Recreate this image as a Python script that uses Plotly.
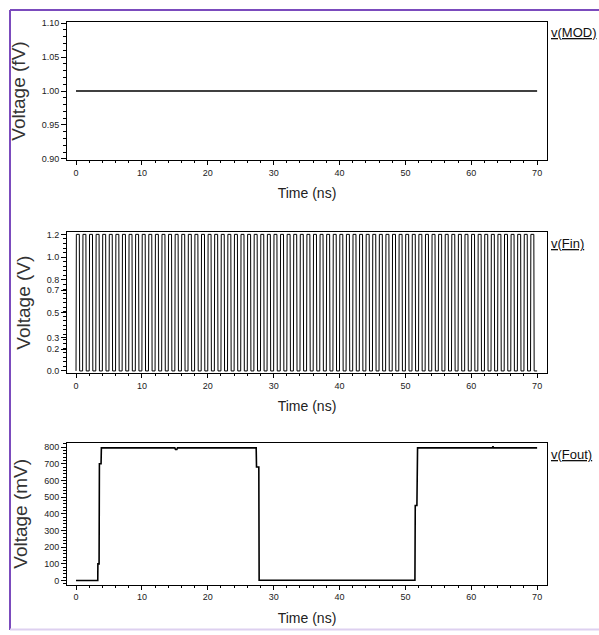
import plotly.graph_objects as go

# ---------------- data ----------------
mod_t = [0, 70]
mod_v = [1.0, 1.0]

# Fin: clock edges (rise times in ns), high time ~0.5 ns
fin_rise_ns = [0, 1, 2, 3, 4, 5, 6, 7, 8, 9, 10, 11, 12, 13, 14, 15, 16, 17, 18, 19,
               20, 21, 22, 23, 24, 25, 26, 27, 28, 29, 30, 31, 32, 33, 34, 35, 36, 37, 38, 39,
               40, 41, 42, 43, 44, 45, 46, 47, 48, 49, 50, 51, 52, 53, 54, 55, 56, 57, 58, 59,
               60, 61, 62, 63, 64, 65, 66, 67, 68, 69]
fin_high_ns = 0.5
fin_edge_ns = 0.05
fin_hi = 1.2
fin_lo = 0.0
fin_end = 70

fout_t = [0, 3.3, 3.32, 3.5, 3.55, 3.8, 3.85, 15.0, 15.1, 15.3, 15.4, 27.35, 27.4,
          27.75, 27.8, 51.45, 51.5, 51.75, 51.85, 63.2, 63.3, 63.4, 70]
fout_v = [0, 0, 100, 100, 700, 700, 795, 795, 785, 785, 795, 795, 680,
          680, 2, 2, 450, 450, 795, 795, 805, 795, 795]

fin_yticks = [0.0, 0.19, 0.29, 0.51, 0.71, 0.8, 1.0, 1.2]
fin_ytext = ["0.0", "0.2", "0.3", "0.5", "0.7", "0.8", "1.0", "1.2"]

labels = ["v(MOD)", "v(Fin)", "v(Fout)"]
ytitles = ["Voltage (fV)", "Voltage (V)", "Voltage (mV)"]

# build Fin waveform from the edge list
fin_t, fin_v = [], []
for r in fin_rise_ns:
    fin_t += [r, r + fin_edge_ns, r + fin_high_ns, r + fin_high_ns + fin_edge_ns]
    fin_v += [fin_lo, fin_hi, fin_hi, fin_lo]
fin_t.append(fin_end)
fin_v.append(fin_lo)

# ---------------- figure ----------------
W, H = 599, 635
def fy(px):
    return 1 - px / H

xdom = [67 / W, 547 / W]
ydoms = [[fy(159), fy(19)], [fy(374), fy(232)], [fy(588), fy(445)]]
yranges = [[0.898, 1.102], [-0.017, 1.217], [-23.7, 823.7]]

fig = go.Figure()
fig.add_trace(go.Scatter(x=mod_t, y=mod_v, mode="lines", line=dict(color="black", width=1.6),
                         xaxis="x", yaxis="y", showlegend=False))
fig.add_trace(go.Scatter(x=fin_t, y=fin_v, mode="lines", line=dict(color="black", width=1),
                         xaxis="x2", yaxis="y2", showlegend=False))
fig.add_trace(go.Scatter(x=fout_t, y=fout_v, mode="lines", line=dict(color="black", width=1.6),
                         xaxis="x3", yaxis="y3", showlegend=False))

tickfont = dict(family="Arial", size=9, color="#222")
layout = dict(width=W, height=H, margin=dict(l=0, r=0, t=0, b=0),
              paper_bgcolor="white", plot_bgcolor="white", showlegend=False)

for i in range(3):
    xs = "xaxis" if i == 0 else f"xaxis{i+1}"
    ys = "yaxis" if i == 0 else f"yaxis{i+1}"
    yid = "y" if i == 0 else f"y{i+1}"
    xid = "x" if i == 0 else f"x{i+1}"
    layout[xs] = dict(domain=xdom, anchor=yid, range=[-1.37, 71.5], showgrid=False, zeroline=False,
                      showline=True, linecolor="black", linewidth=1, mirror=True,
                      ticks="outside", ticklen=4, tickcolor="black", tickvals=[0, 10, 20, 30, 40, 50, 60, 70],
                      tickfont=tickfont,
                      minor=dict(ticks="outside", ticklen=2, dtick=2, tick0=0, tickcolor="black"),
                      title=dict(text="Time (ns)", font=dict(family="Arial", size=14, color="#222"), standoff=11))
    ydict = dict(domain=ydoms[i], anchor=xid, range=yranges[i], showgrid=False, zeroline=False,
                 showline=True, linecolor="black", linewidth=1, mirror=True,
                 ticks="outside", ticklen=5, tickcolor="black", tickfont=tickfont,
                 title=dict(text=ytitles[i], font=dict(family="Arial", size=19, color="#333"), standoff=11))
    if i == 0:
        ydict.update(tickvals=[0.90, 0.95, 1.00, 1.05, 1.10], ticktext=["0.90", "0.95", "1.00", "1.05", "1.10"],
                     minor=dict(ticks="outside", ticklen=3, dtick=0.01, tick0=0.9, tickcolor="black"))
    elif i == 1:
        ydict.update(tickvals=fin_yticks, ticktext=fin_ytext,
                     minor=dict(ticks="outside", ticklen=3, dtick=0.04, tick0=0, tickcolor="black"))
    else:
        ydict.update(tickvals=[0, 100, 200, 300, 400, 500, 600, 700, 800],
                     minor=dict(ticks="outside", ticklen=3, dtick=20, tick0=0, tickcolor="black"))
    layout[ys] = ydict

fig.update_layout(**layout)

# series labels at right
label_y = [fy(30), fy(243), fy(457)]
for lab, yy in zip(labels, label_y):
    fig.add_annotation(text=f"<u>{lab}</u>", xref="paper", yref="paper", x=549 / W, y=yy,
                       xanchor="left", yanchor="middle", showarrow=False,
                       font=dict(family="Arial", size=13, color="#111"))

# purple frame
fig.add_shape(type="line", xref="paper", yref="paper", x0=10 / W, x1=1, y0=fy(7), y1=fy(7),
              line=dict(color="#7b4bbd", width=2))
fig.add_shape(type="line", xref="paper", yref="paper", x0=10 / W, x1=10 / W, y0=fy(7), y1=fy(634),
              line=dict(color="#7b4bbd", width=2))
fig.add_shape(type="line", xref="paper", yref="paper", x0=10 / W, x1=1, y0=fy(633.5), y1=fy(633.5),
              line=dict(color="#ddd0f0", width=2))

fig.write_html("out.html", config={"displayModeBar": False},
               post_script="document.body.style.margin='0';document.body.style.padding='0';"
                           "document.body.style.overflow='hidden';"
                           "document.documentElement.style.overflow='hidden';")
